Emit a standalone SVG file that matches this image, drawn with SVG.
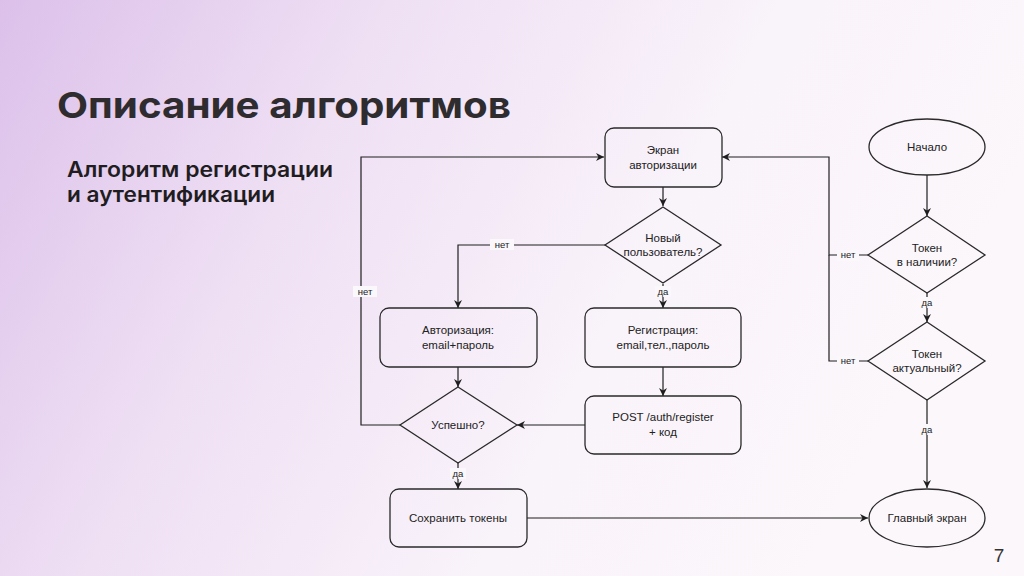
<svg xmlns="http://www.w3.org/2000/svg" width="1024" height="576" viewBox="0 0 1024 576">
<defs>
<linearGradient id="bg" x1="0" y1="0" x2="1" y2="0.3">
<stop offset="0" stop-color="#dcc0ea"/>
<stop offset="0.35" stop-color="#efe0f4"/>
<stop offset="0.7" stop-color="#f9f3fa"/>
<stop offset="1" stop-color="#fcf7fb"/>
</linearGradient>
<marker id="arr" viewBox="0 0 10 10" refX="10" refY="5" markerWidth="8" markerHeight="8" markerUnits="userSpaceOnUse" orient="auto">
<path d="M0,0 L10,5 L0,10 L3,5 Z" fill="#1e1e1e"/>
</marker>
<style>
.n{fill:none;stroke:#2a2a2a;stroke-width:1.3}
.t{font-family:"Liberation Sans",Arial,sans-serif;font-size:11.5px;fill:#222;text-anchor:middle}
.l{font-family:"Liberation Sans",Arial,sans-serif;font-size:9.5px;fill:#222;text-anchor:middle}
.lb{fill:#fbf8fc}
.c{fill:none;stroke:#1e1e1e;stroke-width:1.2}
</style>
</defs>
<rect width="1024" height="576" fill="url(#bg)"/>
<text x="57" y="118" font-family="Inter, 'Open Sans', sans-serif" font-weight="700" font-size="36" fill="#2f2c30" textLength="454" lengthAdjust="spacingAndGlyphs">Описание алгоритмов</text>
<text font-family="Inter, 'Open Sans', sans-serif" font-weight="600" font-size="21" fill="#1f1d21">
<tspan x="67" y="177" textLength="266" lengthAdjust="spacingAndGlyphs">Алгоритм регистрации</tspan>
<tspan x="67" y="202" textLength="208" lengthAdjust="spacingAndGlyphs">и аутентификации</tspan>
</text>
<text x="999" y="562" font-family="'Liberation Sans', sans-serif" font-size="19" fill="#333" text-anchor="middle">7</text>

<g id="connectors">
<line class="c" x1="663" y1="187" x2="663" y2="206" marker-end="url(#arr)"/>
<polyline class="c" points="605,245 458,245 458,308" marker-end="url(#arr)"/>
<rect class="lb" x="490" y="239" width="24" height="11"/>
<text class="l" x="502" y="248">нет</text>
<line class="c" x1="663" y1="284" x2="663" y2="308" marker-end="url(#arr)"/>
<rect class="lb" x="655" y="286" width="16" height="11"/>
<text class="l" x="663" y="295">да</text>
<line class="c" x1="663" y1="367" x2="663" y2="396" marker-end="url(#arr)"/>
<line class="c" x1="458" y1="367" x2="458" y2="387" marker-end="url(#arr)"/>
<line class="c" x1="585" y1="425" x2="517" y2="425" marker-end="url(#arr)"/>
<polyline class="c" points="400,425 361,425 361,157 604,157" marker-end="url(#arr)"/>
<rect class="lb" x="353" y="286" width="24" height="11"/>
<text class="l" x="365" y="295">нет</text>
<line class="c" x1="458" y1="463" x2="458" y2="489" marker-end="url(#arr)"/>
<rect class="lb" x="450" y="468" width="16" height="11"/>
<text class="l" x="458" y="477">да</text>
<line class="c" x1="527" y1="518" x2="868" y2="518" marker-end="url(#arr)"/>
<line class="c" x1="927" y1="175" x2="927" y2="216" marker-end="url(#arr)"/>
<polyline class="c" points="868,255 829,255 829,157 722,157" marker-end="url(#arr)"/>
<rect class="lb" x="837" y="250" width="22" height="11"/>
<text class="l" x="848" y="258">нет</text>
<polyline class="c" points="868,361 829,361 829,255"/>
<rect class="lb" x="837" y="356" width="22" height="11"/>
<text class="l" x="848" y="364">нет</text>
<line class="c" x1="927" y1="293" x2="927" y2="322" marker-end="url(#arr)"/>
<rect class="lb" x="919" y="297" width="16" height="11"/>
<text class="l" x="927" y="306">да</text>
<line class="c" x1="927" y1="400" x2="927" y2="488" marker-end="url(#arr)"/>
<rect class="lb" x="919" y="424" width="16" height="11"/>
<text class="l" x="927" y="433">да</text>
</g>

<g id="auth-screen">
<rect class="n" x="605" y="128" width="117" height="59" rx="9"/>
<text class="t" x="663" y="154">Экран</text>
<text class="t" x="663" y="169">авторизации</text>
</g>
<g id="new-user">
<polygon class="n" points="663,207 721,245 663,283 605,245"/>
<text class="t" x="663" y="242">Новый</text>
<text class="t" x="663" y="256">пользователь?</text>
</g>
<g id="login">
<rect class="n" x="380" y="308" width="157" height="59" rx="9"/>
<text class="t" x="458" y="334">Авторизация:</text>
<text class="t" x="458" y="349">email+пароль</text>
</g>
<g id="register">
<rect class="n" x="585" y="308" width="156" height="59" rx="9"/>
<text class="t" x="663" y="334">Регистрация:</text>
<text class="t" x="663" y="349">email,тел.,пароль</text>
</g>
<g id="post">
<rect class="n" x="585" y="396" width="156" height="58" rx="9"/>
<text class="t" x="663" y="421" font-size="12.5">POST /auth/register</text>
<text class="t" x="663" y="436">+ код</text>
</g>
<g id="success">
<polygon class="n" points="458,387 517,425 458,463 400,425"/>
<text class="t" x="458" y="429">Успешно?</text>
</g>
<g id="save-tokens">
<rect class="n" x="390" y="489" width="137" height="58" rx="9"/>
<text class="t" x="458" y="522">Сохранить токены</text>
</g>
<g id="start">
<ellipse class="n" cx="927" cy="147" rx="58" ry="28"/>
<text class="t" x="927" y="151">Начало</text>
</g>
<g id="token-exists">
<polygon class="n" points="927,216 985,255 927,293 868,255"/>
<text class="t" x="927" y="252">Токен</text>
<text class="t" x="927" y="266">в наличии?</text>
</g>
<g id="token-valid">
<polygon class="n" points="927,322 985,361 927,400 868,361"/>
<text class="t" x="927" y="358">Токен</text>
<text class="t" x="927" y="372">актуальный?</text>
</g>
<g id="main-screen">
<ellipse class="n" cx="927" cy="518" rx="58" ry="29"/>
<text class="t" x="927" y="522">Главный экран</text>
</g>
</svg>
